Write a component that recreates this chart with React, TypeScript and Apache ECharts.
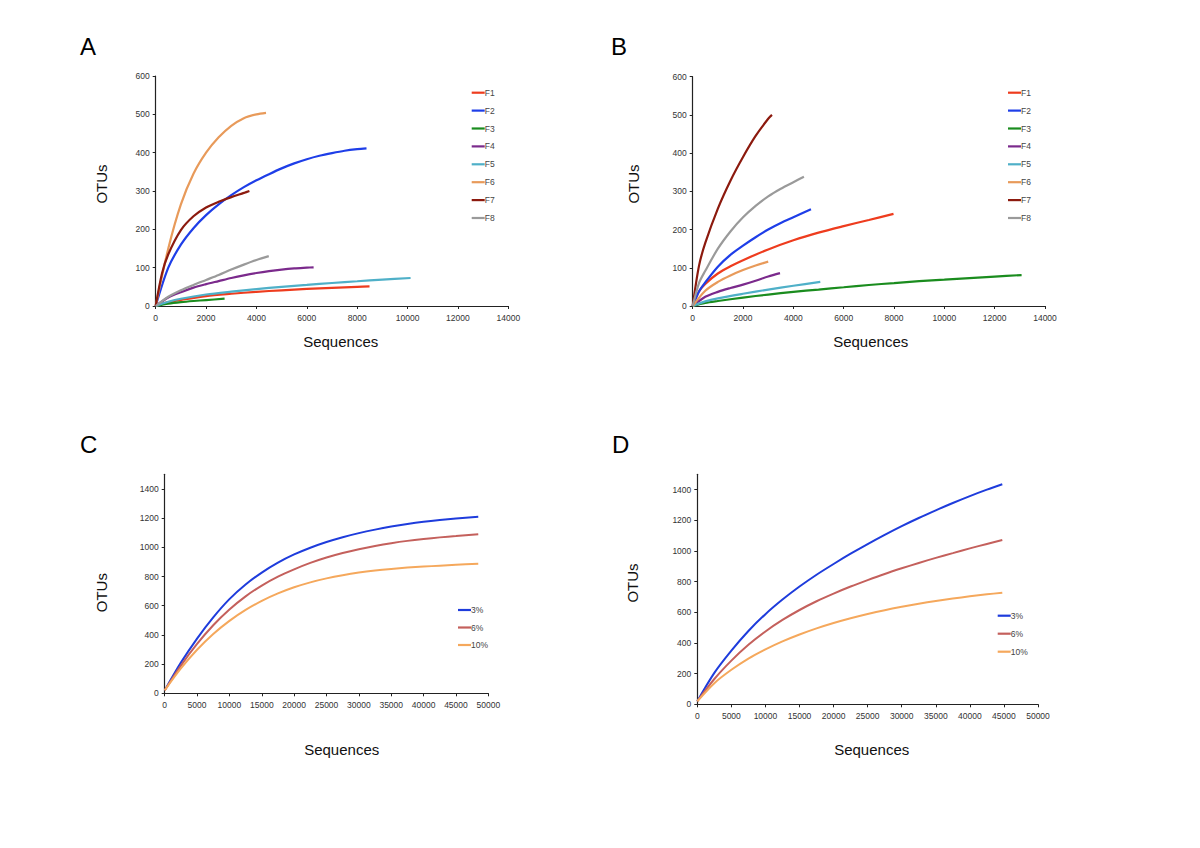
import React, { useEffect, useRef } from "react";
import * as echarts from "echarts";

// ---------- Panel A (F1..F8): [sequences, OTUs] ----------
const aF1 = [[0,0],[500,10],[1000,16],[2000,26],[3000,32],[4000,37],[5000,41],[6000,44.5],[7000,47.5],[8000,50],[8490,51]];
const aF2 = [[0,0],[500,100],[1000,160],[1500,203],[2000,237],[2500,265],[3000,289],[3500,310],[4000,328],[4500,344],[5000,359],[5500,372],[6000,383],[6500,392],[7000,399],[7500,405],[8000,409],[8370,411]];
const aF3 = [[0,0],[500,6],[1000,10],[1500,13],[2000,15.5],[2735,19]];
const aF4 = [[0,0],[500,22],[1000,36],[1500,48],[2000,57],[2500,65],[3000,73],[3500,80],[4000,86],[4500,91],[5000,95],[5500,98],[6000,100],[6270,101]];
const aF5 = [[0,0],[500,11],[1000,19],[2000,30],[3000,37.5],[4000,44],[5000,50],[6000,55],[7000,60],[8000,64.5],[9000,69],[10120,73]];
const aF6 = [[0,0],[500,150],[1000,265],[1500,345],[2000,400],[2500,440],[3000,470],[3500,490],[4000,500],[4380,504]];
const aF7 = [[0,0],[250,85],[500,135],[1000,198],[1500,234],[2000,257],[2500,272],[3000,284],[3500,295],[3720,300]];
const aF8 = [[0,0],[500,24],[1000,41],[1500,55],[2000,68],[2500,81],[3000,95],[3500,108],[4000,120],[4490,130]];

// ---------- Panel B (F1..F8) ----------
const bF1 = [[0,0],[250,38],[500,58],[1000,85],[1500,104],[2000,120],[3000,148],[4000,172],[5000,192],[6000,209],[7000,225],[7980,241]];
const bF2 = [[0,0],[250,38],[500,62],[1000,103],[1500,134],[2000,158],[2500,180],[3000,200],[3500,217],[4000,232],[4700,253]];
const bF3 = [[0,0],[500,8],[1000,13],[2000,22],[3000,30],[4000,37],[5000,43],[6000,49],[7000,55],[8000,60],[9000,65],[10000,69],[11000,73],[12000,77],[13070,81]];
const bF4 = [[0,0],[500,24],[1000,37],[1500,47],[2000,56],[2500,66],[3000,77],[3470,86]];
const bF5 = [[0,0],[500,12],[1000,20],[2000,32],[3000,43],[4000,53],[5070,63]];
const bF6 = [[0,0],[500,40],[1000,63],[1500,80],[2000,94],[2500,106],[3000,116]];
const bF7 = [[0,0],[250,105],[500,165],[1000,255],[1500,328],[2000,390],[2500,445],[3000,490],[3150,500]];
const bF8 = [[0,0],[250,60],[500,92],[1000,150],[1500,195],[2000,232],[2500,262],[3000,287],[3500,307],[4000,324],[4420,338]];

// ---------- Panel C (3%, 6%, 10%) ----------
const c3 = [[0,20],[2500,210],[5000,375],[7500,520],[10000,645],[12500,745],[15000,827],[17500,895],[20000,951],[22500,997],[25000,1036],[27500,1069],[30000,1097],[32500,1121],[35000,1142],[37500,1160],[40000,1175],[42500,1187],[45000,1197],[48450,1210]];
const c6 = [[0,20],[2500,190],[5000,338],[7500,466],[10000,574],[12500,664],[15000,738],[17500,799],[20000,849],[22500,893],[25000,930],[27500,961],[30000,987],[32500,1009],[35000,1028],[37500,1044],[40000,1057],[42500,1068],[45000,1077],[48450,1090]];
const c10 = [[0,20],[2500,170],[5000,298],[7500,406],[10000,496],[12500,571],[15000,633],[17500,684],[20000,726],[22500,760],[25000,787],[27500,809],[30000,827],[32500,841],[35000,852],[37500,861],[40000,868],[42500,874],[45000,880],[48450,887]];

// ---------- Panel D (3%, 6%, 10%) ----------
const d3 = [[0,20],[2500,205],[5000,350],[7500,478],[10000,588],[12500,683],[15000,768],[17500,845],[20000,915],[22500,982],[25000,1045],[27500,1105],[30000,1162],[32500,1215],[35000,1265],[37500,1313],[40000,1358],[42500,1400],[44760,1435]];
const d6 = [[0,20],[2500,165],[5000,285],[7500,388],[10000,475],[12500,550],[15000,615],[17500,672],[20000,722],[22500,768],[25000,810],[27500,850],[30000,887],[32500,922],[35000,955],[37500,986],[40000,1017],[42500,1046],[44760,1072]];
const d10 = [[0,20],[2500,138],[5000,225],[7500,298],[10000,358],[12500,410],[15000,455],[17500,495],[20000,530],[22500,561],[25000,589],[27500,614],[30000,636],[32500,656],[35000,674],[37500,690],[40000,704],[42500,717],[44760,728]];

const fNames = ["F1", "F2", "F3", "F4", "F5", "F6", "F7", "F8"];
const pctNames = ["3%", "6%", "10%"];
const aSeries = [aF1, aF2, aF3, aF4, aF5, aF6, aF7, aF8];
const bSeries = [bF1, bF2, bF3, bF4, bF5, bF6, bF7, bF8];
const cSeries = [c3, c6, c10];
const dSeries = [d3, d6, d10];

const fColors = ["#ee3c1e", "#1e3ee8", "#1a8c1e", "#7b2a8c", "#4fb0c8", "#e89a5a", "#8c1a0e", "#9a9a9a"];
const pctColors = ["#1e3cdc", "#c4605c", "#f5a85c"];

const FONT = "'Liberation Sans', Arial, Helvetica, sans-serif";

const grids = [
  { left: 155.7, top: 76, width: 352.6, height: 230 },
  { left: 692.7, top: 76.7, width: 352.3, height: 229.3 },
  { left: 164.7, top: 474.3, width: 323.6, height: 219 },
  { left: 697.3, top: 474.3, width: 340.7, height: 230 },
];

const axisLineStyle = { show: true, lineStyle: { color: "#222", width: 1.2 } };
const labelStyle = { fontSize: 8.5, color: "#333", fontFamily: FONT, formatter: (v: number) => String(v) };

function xAxis(gridIndex: number, max: number, interval: number) {
  return {
    type: "value", gridIndex, min: 0, max, interval,
    axisLine: axisLineStyle,
    axisTick: { show: true, length: 3, lineStyle: { color: "#222" } },
    axisLabel: { ...labelStyle, margin: 7 },
    splitLine: { show: false },
  };
}
function yAxis(gridIndex: number, max: number, interval: number, labelMax: number) {
  const vals: number[] = [];
  for (let v = 0; v <= labelMax; v += interval) vals.push(v);
  return {
    type: "value", gridIndex, min: 0, max, interval,
    axisLine: axisLineStyle,
    axisTick: { show: true, length: 3, lineStyle: { color: "#222" }, customValues: vals },
    axisLabel: { ...labelStyle, margin: 6, customValues: vals },
    splitLine: { show: false },
  };
}

function lineSeries(name: string, data: number[][], color: string, idx: number, width: number) {
  return {
    type: "line", name, data, xAxisIndex: idx, yAxisIndex: idx,
    smooth: 0.3, symbol: "none",
    lineStyle: { color, width }, itemStyle: { color },
    z: 2,
  };
}

function legend(names: string[], left: number, top: number, gap: number) {
  return {
    orient: "vertical", left, top, data: names,
    icon: "rect", itemWidth: 13, itemHeight: 2.2, itemGap: gap - 10,
    textStyle: { fontSize: 8.5, color: "#444", fontFamily: FONT, lineHeight: 10, height: 10, padding: [0, 0, 0, -5] },
    selectedMode: false,
  };
}

function txt(text: string, x: number, y: number, size: number, rot = 0) {
  return {
    type: "text", x, y, rotation: rot,
    style: { text, font: `${size}px ${FONT}`, fill: "#111", align: "center", verticalAlign: "middle" },
  };
}

export default function App() {
  const ref = useRef<HTMLDivElement>(null);
  useEffect(() => {
    if (!ref.current) return;
    const chart = echarts.init(ref.current, undefined, { renderer: "svg" });
    const series: any[] = [];
    aSeries.forEach((d, i) => series.push(lineSeries(fNames[i], d, fColors[i], 0, 2.2)));
    bSeries.forEach((d, i) => series.push(lineSeries(fNames[i], d, fColors[i], 1, 2.2)));
    cSeries.forEach((d, i) => series.push(lineSeries(pctNames[i], d, pctColors[i], 2, 2)));
    dSeries.forEach((d, i) => series.push(lineSeries(pctNames[i], d, pctColors[i], 3, 2)));

    chart.setOption({
      animation: false,
      backgroundColor: "#fff",
      grid: grids.map((g) => ({ ...g, containLabel: false })),
      xAxis: [xAxis(0, 14000, 2000), xAxis(1, 14000, 2000), xAxis(2, 50000, 5000), xAxis(3, 50000, 5000)],
      yAxis: [yAxis(0, 600, 100, 600), yAxis(1, 600, 100, 600), yAxis(2, 1500, 200, 1400), yAxis(3, 1500, 200, 1400)],
      legend: [
        legend(fNames, 466.7, 82.7, 17.9),
        legend(fNames, 1003, 82.7, 17.9),
        legend(pctNames, 453, 600, 17.5),
        legend(pctNames, 992.7, 605.7, 18),
      ],
      series,
      graphic: [
        { type: "text", left: 80, top: 34, style: { text: "A", font: `24px ${FONT}`, fill: "#000" } },
        { type: "text", left: 611, top: 34, style: { text: "B", font: `24px ${FONT}`, fill: "#000" } },
        { type: "text", left: 80, top: 432.5, style: { text: "C", font: `24px ${FONT}`, fill: "#000" } },
        { type: "text", left: 612, top: 432.5, style: { text: "D", font: `24px ${FONT}`, fill: "#000" } },
        txt("OTUs", 101.7, 184, 15, Math.PI / 2),
        txt("OTUs", 633, 184, 15, Math.PI / 2),
        txt("OTUs", 101.7, 592.7, 15, Math.PI / 2),
        txt("OTUs", 632.7, 583, 15, Math.PI / 2),
        txt("Sequences", 340.7, 341.5, 15),
        txt("Sequences", 870.7, 341, 15),
        txt("Sequences", 341.7, 749, 15),
        txt("Sequences", 871.7, 749, 15),
      ],
    });
    return () => chart.dispose();
  }, []);
  return (
    <div
      ref={ref}
      style={{ position: "fixed", left: 0, top: 0, width: 1200, height: 848, background: "#fff" }}
    />
  );
}
